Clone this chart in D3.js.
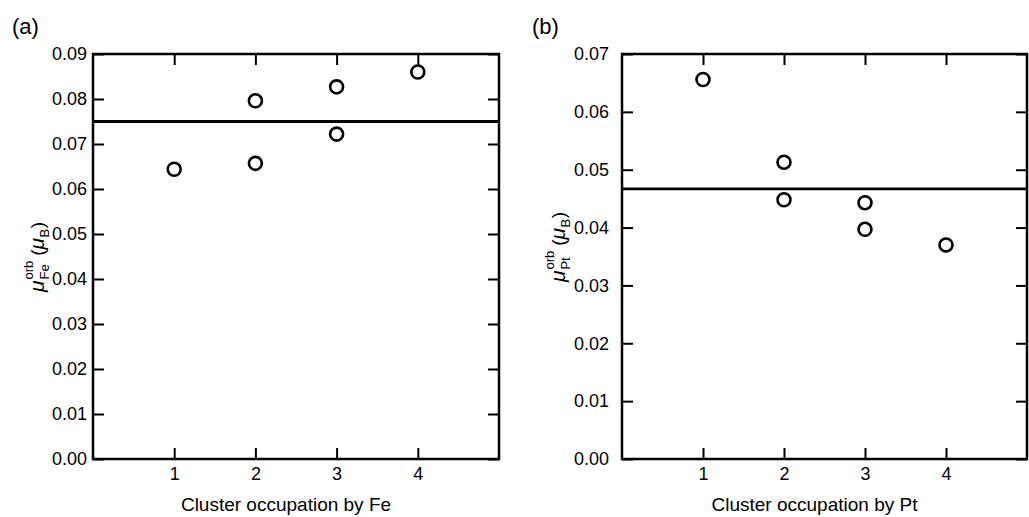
<!DOCTYPE html>
<html>
<head>
<meta charset="utf-8">
<script src="https://cdn.jsdelivr.net/npm/d3@7"></script>
<style>
  body { margin: 0; background: #fff; }
  svg { font-family: "Liberation Sans", Arial, Helvetica, sans-serif; }
</style>
</head>
<body>
<div id="chart"></div>
<script>
// data
var xTicks = [1, 2, 3, 4];

var feOcc = [1, 2, 2, 3, 3, 4];
var feOrb = [0.0644, 0.0796, 0.0657, 0.0827, 0.0722, 0.0860];
var feAvg = 0.075;
var feYTicks = [0, 0.01, 0.02, 0.03, 0.04, 0.05, 0.06, 0.07, 0.08, 0.09];

var ptOcc = [1, 2, 2, 3, 3, 4];
var ptOrb = [0.0656, 0.0513, 0.0448, 0.0443, 0.0397, 0.0370];
var ptAvg = 0.0467;
var ptYTicks = [0, 0.01, 0.02, 0.03, 0.04, 0.05, 0.06, 0.07];

var svg = d3.select("#chart")
  .append("svg")
    .attr("width", 1029)
    .attr("height", 517);

function drawPanel(opt) {
  var left = opt.left, right = opt.right, top = 54, bottom = 459;

  var x = d3.scaleLinear().domain([0, 5]).range([left, right]);
  var y = d3.scaleLinear().domain([0, opt.ymax]).range([bottom, top]);

  var g = svg.append("g");

  // ticks pointing inwards on all four sides
  g.append("g")
    .attr("transform", "translate(0," + bottom + ")")
    .call(d3.axisBottom(x).tickValues(xTicks).tickSize(-11).tickPadding(8).tickFormat(d3.format("d")));
  g.append("g")
    .attr("transform", "translate(0," + top + ")")
    .call(d3.axisTop(x).tickValues(xTicks).tickSize(-11).tickFormat(""));
  g.append("g")
    .attr("transform", "translate(" + left + ",0)")
    .call(d3.axisLeft(y).tickValues(opt.yTicks).tickSize(-11).tickPadding(opt.pad).tickFormat(d3.format(".2f")));
  g.append("g")
    .attr("transform", "translate(" + right + ",0)")
    .call(d3.axisRight(y).tickValues(opt.yTicks).tickSize(-11).tickFormat(""));

  g.selectAll(".domain").remove();
  g.selectAll(".tick line").attr("stroke", "#000").attr("stroke-width", 2);
  g.selectAll(".tick text").attr("fill", "#000").style("font-size", "18px");

  // frame
  g.append("rect")
    .attr("x", left).attr("y", top)
    .attr("width", right - left).attr("height", bottom - top)
    .attr("fill", "none")
    .attr("stroke", "#000")
    .attr("stroke-width", 2.5);

  // average line
  g.append("line")
    .attr("x1", x(0)).attr("x2", x(5))
    .attr("y1", y(opt.avg)).attr("y2", y(opt.avg))
    .attr("stroke", "#000")
    .attr("stroke-width", 2.8);

  var pts = opt.occ.map(function(d, i) { return {occ: d, val: opt.vals[i]}; });
  g.selectAll("circle")
    .data(pts)
    .enter()
    .append("circle")
      .attr("cx", function(d) { return x(d.occ); })
      .attr("cy", function(d) { return y(d.val); })
      .attr("r", 6.5)
      .attr("fill", "#fff")
      .attr("stroke", "#000")
      .attr("stroke-width", 2.6);

  // x title
  g.append("text")
    .attr("x", (left + right) / 2 - 10)
    .attr("y", 511)
    .attr("text-anchor", "middle")
    .style("font-size", "19px")
    .text(opt.xTitle);

  // panel letter
  g.append("text")
    .attr("x", opt.letterX)
    .attr("y", 34)
    .style("font-size", "22px")
    .text(opt.letter);

  // y title: mu^orb_el (mu_B), rotated
  var lab = g.append("g")
    .attr("transform", "translate(" + opt.labX + "," + opt.labY + ") rotate(-90)");
  var pos = 0;
  function piece(txt, size, dy, italic) {
    return lab.append("text")
      .attr("x", pos).attr("y", dy)
      .style("font-size", size + "px")
      .style("font-style", italic ? "italic" : "normal")
      .text(txt);
  }
  var mu1 = piece("\u03bc", 21, 0, true);
  pos += mu1.node().getComputedTextLength() + 1;
  var sub1 = piece(opt.el, 13, 5, false);
  var sup1 = piece("orb", 13, -11, false);
  pos += Math.max(sub1.node().getComputedTextLength(), sup1.node().getComputedTextLength()) + 5;
  var p1 = piece("(", 19, 0, false);
  pos += p1.node().getComputedTextLength();
  var mu2 = piece("\u03bc", 21, 0, true);
  pos += mu2.node().getComputedTextLength() + 0.5;
  var sub2 = piece("B", 13, 5, false);
  pos += sub2.node().getComputedTextLength() + 0.5;
  var p2 = piece(")", 19, 0, false);
  pos += p2.node().getComputedTextLength();
  lab.selectAll("text").attr("x", function() { return +d3.select(this).attr("x") - pos / 2; });
}

drawPanel({left: 93, right: 499, ymax: 0.09, yTicks: feYTicks, pad: 6,
  occ: feOcc, vals: feOrb, avg: feAvg, el: "Fe",
  xTitle: "Cluster occupation by Fe", letter: "(a)", letterX: 12, labX: 44, labY: 257});

drawPanel({left: 622, right: 1027, ymax: 0.07, yTicks: ptYTicks, pad: 13,
  occ: ptOcc, vals: ptOrb, avg: ptAvg, el: "Pt",
  xTitle: "Cluster occupation by Pt", letter: "(b)", letterX: 532, labX: 565, labY: 247});
</script>
</body>
</html>
